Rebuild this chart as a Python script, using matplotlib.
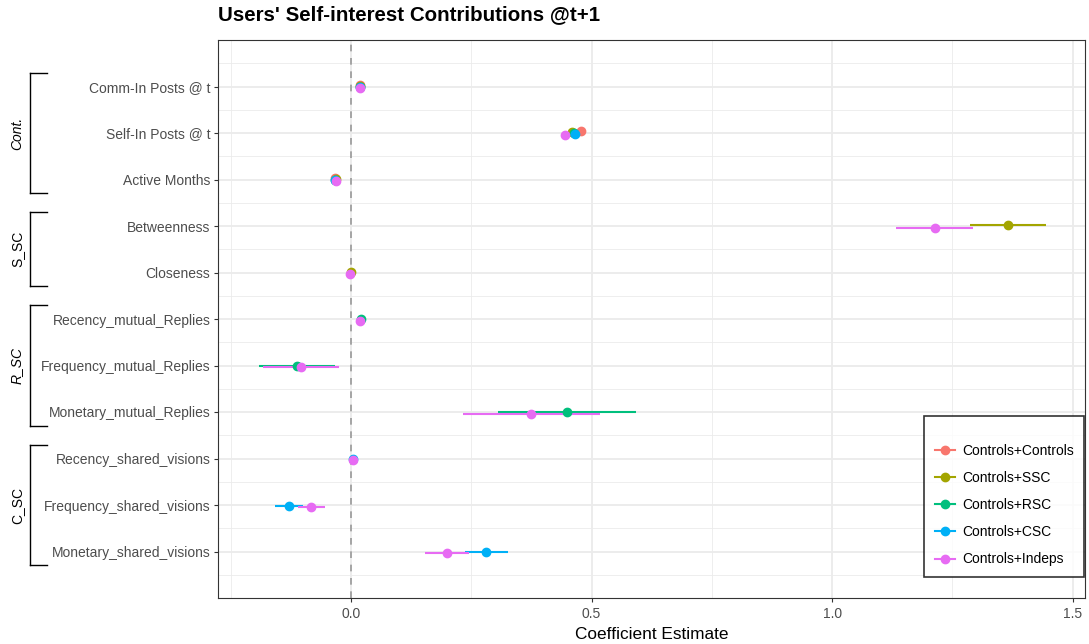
import matplotlib
matplotlib.use("Agg")
import matplotlib.pyplot as plt
import numpy as np
from matplotlib.lines import Line2D

plt.rcParams['font.family'] = ['Liberation Sans', 'DejaVu Sans']

variables = ["Comm-In Posts @ t", "Self-In Posts @ t", "Active Months",
             "Betweenness", "Closeness",
             "Recency_mutual_Replies", "Frequency_mutual_Replies", "Monetary_mutual_Replies",
             "Recency_shared_visions", "Frequency_shared_visions", "Monetary_shared_visions"]

models = ["Controls+Controls", "Controls+SSC", "Controls+RSC", "Controls+CSC", "Controls+Indeps"]
colors = ["#F8766D", "#A3A500", "#00BF7D", "#00B0F6", "#E76BF3"]

# estimate, lower, upper per variable (only variables present in each model)
est_controls = {"Comm-In Posts @ t": (0.019, 0.015, 0.023), "Self-In Posts @ t": (0.478, 0.472, 0.484),
                "Active Months": (-0.033, -0.036, -0.030)}
est_ssc = {"Comm-In Posts @ t": (0.019, 0.015, 0.023), "Self-In Posts @ t": (0.459, 0.453, 0.465),
           "Active Months": (-0.032, -0.035, -0.029), "Betweenness": (1.365, 1.286, 1.444),
           "Closeness": (-0.001, -0.004, 0.002)}
est_rsc = {"Comm-In Posts @ t": (0.019, 0.015, 0.023), "Self-In Posts @ t": (0.463, 0.457, 0.469),
           "Active Months": (-0.033, -0.036, -0.030), "Recency_mutual_Replies": (0.021, 0.017, 0.025),
           "Frequency_mutual_Replies": (-0.113, -0.191, -0.033), "Monetary_mutual_Replies": (0.448, 0.306, 0.592)}
est_csc = {"Comm-In Posts @ t": (0.018, 0.014, 0.022), "Self-In Posts @ t": (0.466, 0.460, 0.472),
           "Active Months": (-0.033, -0.036, -0.030), "Recency_shared_visions": (0.005, 0.002, 0.008),
           "Frequency_shared_visions": (-0.129, -0.157, -0.100), "Monetary_shared_visions": (0.281, 0.236, 0.327)}
est_indeps = {"Comm-In Posts @ t": (0.018, 0.014, 0.022), "Self-In Posts @ t": (0.445, 0.439, 0.451),
              "Active Months": (-0.031, -0.034, -0.028), "Betweenness": (1.213, 1.133, 1.293),
              "Closeness": (-0.002, -0.005, 0.001), "Recency_mutual_Replies": (0.018, 0.014, 0.022),
              "Frequency_mutual_Replies": (-0.103, -0.182, -0.024), "Monetary_mutual_Replies": (0.375, 0.233, 0.518),
              "Recency_shared_visions": (0.005, 0.002, 0.008), "Frequency_shared_visions": (-0.083, -0.111, -0.054),
              "Monetary_shared_visions": (0.199, 0.153, 0.245)}
estimates = [est_controls, est_ssc, est_rsc, est_csc, est_indeps]

groups = [("Cont.", 0, 2, True), ("S_SC", 3, 4, False), ("R_SC", 5, 7, True), ("C_SC", 8, 10, False)]

fig = plt.figure(figsize=(10.89, 6.44), dpi=100)
ax = fig.add_axes([218/1089, 1-598/644, (1085-218)/1089, (598-40)/644])

n = len(variables)
ypos = {v: n - i for i, v in enumerate(variables)}
offsets = [0.04, 0.02, 0.0, -0.02, -0.04]

ax.set_xlim(-0.2765, 1.5255)
ax.set_ylim(0, n + 1)

# grid
for x in [-0.25, 0.25, 0.75, 1.25]:
    ax.axvline(x, color="#EBEBEB", lw=0.6, zorder=0)
for x in [0.0, 0.5, 1.0, 1.5]:
    ax.axvline(x, color="#EBEBEB", lw=1.3, zorder=0)
for y in np.arange(0.5, n + 1, 1.0):
    ax.axhline(y, color="#EBEBEB", lw=0.6, zorder=0)
for y in range(1, n + 1):
    ax.axhline(y, color="#EBEBEB", lw=1.3, zorder=0)

ax.axvline(0, color="#999999", lw=1.2, ls=(0, (4, 4)), zorder=1)

for m, (name, col, d, off) in enumerate(zip(models, colors, estimates, offsets)):
    for v, (e, lo, hi) in d.items():
        y = ypos[v] + off
        ax.plot([lo, hi], [y, y], color=col, lw=1.5, zorder=2, solid_capstyle='butt')
        ax.plot(e, y, 'o', color=col, ms=6, zorder=3)

ax.set_yticks([ypos[v] for v in variables])
ax.set_yticklabels(variables, fontsize=10, color="#4D4D4D")
ax.set_xticks([0.0, 0.5, 1.0, 1.5])
ax.set_xticklabels(["0.0", "0.5", "1.0", "1.5"], fontsize=10, color="#4D4D4D")
ax.tick_params(axis='both', length=3, color="#333333", width=0.8)
ax.tick_params(axis='y', pad=2.5)
for s in ax.spines.values():
    s.set_color("#333333")
    s.set_linewidth(0.8)

ax.set_xlabel("Coefficient Estimate", fontsize=12.4, labelpad=4)
fig.text(218/1089, 1-15/644, "Users' Self-interest Contributions @t+1", fontsize=14.8,
         fontweight="bold", va="center", ha="left")

# legend
handles = [Line2D([0], [0], color=c, marker='o', lw=1.5, ms=6) for c in colors]
leg = ax.legend(handles, models, loc="lower right", bbox_to_anchor=(0.999, 0.038),
                borderaxespad=0, title=" ", title_fontsize=3,
                fontsize=10, frameon=True, fancybox=False, edgecolor="black",
                handlelength=1.45, borderpad=0.75, labelspacing=0.95, handletextpad=0.5)
leg.get_frame().set_linewidth(1.2)

# group brackets
def yfig(yd):
    return ax.transData.transform((0, yd))[1] / fig.bbox.height

bx = 30/1089
bx2 = 47/1089
for label, i0, i1, ital in groups:
    ytop = yfig(n - i0 + 0.3)
    ybot = yfig(n - i1 - 0.3)
    fig.add_artist(Line2D([bx, bx], [ybot, ytop], color="black", lw=1.0, transform=fig.transFigure))
    fig.add_artist(Line2D([bx, bx2], [ytop, ytop], color="black", lw=1.0, transform=fig.transFigure))
    fig.add_artist(Line2D([bx, bx2], [ybot, ybot], color="black", lw=1.0, transform=fig.transFigure))
    fig.text(17/1089, (ytop + ybot) / 2, label, rotation=90, ha="center", va="center",
             fontsize=10, style="italic" if ital else "normal")

fig.savefig("out.png", dpi=100)
